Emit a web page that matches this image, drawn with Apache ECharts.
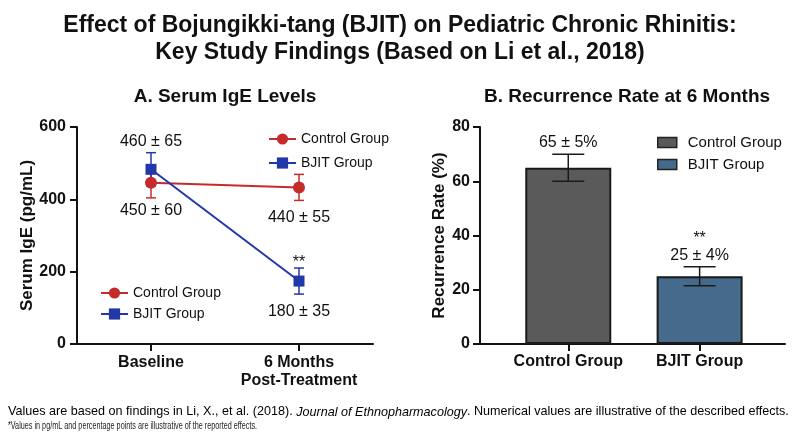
<!DOCTYPE html>
<html>
<head>
<meta charset="utf-8">
<script src="https://cdn.jsdelivr.net/npm/echarts@6/dist/echarts.min.js"></script>
<style>
  html, body { margin: 0; padding: 0; background: #fff; }
  #main { width: 800px; height: 436px; }
</style>
</head>
<body>
<div id="main"></div>
<script>
// panel A: serum IgE (pg/mL), plotted means and error bars
var timepoints = ['Baseline', '6 Months\nPost-Treatment'];
var ctrlIgE = [446, 433];
var ctrlIgEErr = [42, 36];
var bjitIgE = [483, 174];
var bjitIgEErr = [46, 36];
var ctrlIgELabels = ['450 ± 60', '440 ± 55'];
var bjitIgELabels = ['460 ± 65', '180 ± 35'];
var bjitIgESig = ['', '**'];

// panel B: recurrence rate (%)
var groups = ['Control Group', 'BJIT Group'];
var recurrence = [65, 25];
var recurrenceErr = [5, 3.5];
var recurrenceLabels = ['65 ± 5%', '25 ± 4%'];
var recurrenceSig = ['', '**'];

var FONT = '"Liberation Sans", Arial, sans-serif';
var RED = '#c62b2b';
var BLUE = '#2238a8';
var GREY_BAR = '#5a5a5a';
var BLUE_BAR = '#466a8c';

// error bar with caps, plus optional text (significance / value) above the cap
function errorBars(color, capHalf, width, labels, sig, textGap) {
  return function (params, api) {
    var x = api.value(0), y = api.value(1), e = api.value(2);
    var top = api.coord([x, y + e]);
    var bot = api.coord([x, y - e]);
    var st = { stroke: color, lineWidth: width };
    var kids = [
      { type: 'line', shape: { x1: top[0], y1: top[1], x2: bot[0], y2: bot[1] }, style: st },
      { type: 'line', shape: { x1: top[0] - capHalf, y1: top[1], x2: top[0] + capHalf, y2: top[1] }, style: st },
      { type: 'line', shape: { x1: bot[0] - capHalf, y1: bot[1], x2: bot[0] + capHalf, y2: bot[1] }, style: st }
    ];
    var i = params.dataIndex;
    var txt = [];
    if (sig && sig[i]) txt.push(sig[i]);
    if (labels && labels[i]) txt.push(labels[i]);
    if (txt.length) {
      kids.push({
        type: 'text',
        style: {
          text: txt.join('\n'), x: top[0], y: top[1] - textGap,
          align: 'center', verticalAlign: 'bottom',
          font: '16px ' + FONT, fill: '#111', lineHeight: 17
        }
      });
    }
    return { type: 'group', children: kids };
  };
}

function pointLabels(vals, labels, pos, dist) {
  return vals.map(function (v, i) {
    return {
      value: v,
      label: { show: true, formatter: labels[i], position: pos[i], distance: dist[i],
        fontSize: 16, fontFamily: FONT, color: '#111' }
    };
  });
}

var axisTextBold = { fontSize: 16, fontWeight: 'bold', fontFamily: FONT, color: '#111' };
var axisLine = { show: true, onZero: false, lineStyle: { color: '#111', width: 2 } };
var axisTick = { show: true, length: 7, lineStyle: { color: '#111', width: 2 } };

var chart = echarts.init(document.getElementById('main'));
var option = {
  backgroundColor: '#fff',
  animation: false,
  title: {
    text: 'Effect of Bojungikki-tang (BJIT) on Pediatric Chronic Rhinitis:\nKey Study Findings (Based on Li et al., 2018)',
    left: 'center', top: 7,
    textStyle: { fontSize: 23, fontWeight: 'bold', fontFamily: FONT, color: '#111', lineHeight: 27 }
  },
  legend: [
    {
      left: 263, top: 127, orient: 'vertical', itemWidth: 27, itemHeight: 14, itemGap: 10,
      data: ['Control Group', 'BJIT Group'],
      textStyle: { fontSize: 14, fontFamily: FONT, color: '#111' }
    },
    {
      left: 95, top: 281, orient: 'vertical', itemWidth: 27, itemHeight: 14, itemGap: 7,
      data: ['Control Group', 'BJIT Group'],
      textStyle: { fontSize: 14, fontFamily: FONT, color: '#111' }
    },
    {
      left: 652, top: 130, orient: 'vertical', itemWidth: 19, itemHeight: 10, itemGap: 7,
      data: [
        { name: 'Control Group', icon: 'rect', itemStyle: { color: GREY_BAR, borderColor: '#222', borderWidth: 1.5 } },
        { name: 'BJIT Group', icon: 'rect', itemStyle: { color: BLUE_BAR, borderColor: '#222', borderWidth: 1.5 } }
      ],
      textStyle: { fontSize: 15, fontFamily: FONT, color: '#111', padding: [0, 0, 0, 6] }
    }
  ],
  graphic: [
    { type: 'text', x: 225, y: 97, style: { text: 'A. Serum IgE Levels', align: 'center', verticalAlign: 'middle',
      font: 'bold 19px ' + FONT, fill: '#111' } },
    { type: 'text', x: 627, y: 97, style: { text: 'B. Recurrence Rate at 6 Months', align: 'center', verticalAlign: 'middle',
      font: 'bold 19px ' + FONT, fill: '#111' } },
    { type: 'text', x: 8, y: 412, style: {
      text: '{n|Values are based on findings in Li, X., et al. (2018). }{i|Journal of Ethnopharmacology}{n|. Numerical values are illustrative of the described effects.}',
      verticalAlign: 'middle',
      rich: {
        n: { fontSize: 12.6, fontFamily: FONT, color: '#222' },
        i: { fontSize: 12.6, fontFamily: FONT, fontStyle: 'italic', color: '#222' }
      } } },
    { type: 'text', x: 8, y: 426, scaleX: 0.69, style: {
      text: '*Values in pg/mL and percentage points are illustrative of the reported effects.',
      verticalAlign: 'middle',
      font: '10.5px ' + FONT, fill: '#222' } }
  ],
  grid: [
    { left: 77, top: 127, width: 296, height: 217 },
    { left: 480, top: 127, width: 305, height: 217 }
  ],
  xAxis: [
    {
      gridIndex: 0, type: 'category', data: timepoints,
      axisLine: axisLine, axisTick: Object.assign({ alignWithLabel: true }, axisTick),
      axisLabel: Object.assign({ margin: 10, lineHeight: 18, interval: 0 }, axisTextBold),
      splitLine: { show: false }
    },
    {
      gridIndex: 1, type: 'value', min: -0.672, max: 1.65,
      axisLine: axisLine,
      axisTick: Object.assign({ customValues: [0, 1] }, axisTick),
      axisLabel: Object.assign({ margin: 10, customValues: [0, 1],
        formatter: function (v) { return groups[Math.round(v)]; } }, axisTextBold),
      splitLine: { show: false }
    }
  ],
  yAxis: [
    {
      gridIndex: 0, type: 'value', min: 0, max: 600, interval: 200,
      name: 'Serum IgE (pg/mL)', nameLocation: 'middle', nameGap: 41,
      nameTextStyle: { fontSize: 17, fontWeight: 'bold', fontFamily: FONT, color: '#111' },
      axisLine: axisLine, axisTick: axisTick,
      axisLabel: Object.assign({ margin: 11 }, axisTextBold),
      splitLine: { show: false }
    },
    {
      gridIndex: 1, type: 'value', min: 0, max: 80, interval: 20,
      name: 'Recurrence Rate (%)', nameLocation: 'middle', nameGap: 32,
      nameTextStyle: { fontSize: 17, fontWeight: 'bold', fontFamily: FONT, color: '#111' },
      axisLine: axisLine, axisTick: axisTick,
      axisLabel: Object.assign({ margin: 10 }, axisTextBold),
      splitLine: { show: false }
    }
  ],
  series: [
    {
      name: 'Control Group', type: 'line', xAxisIndex: 0, yAxisIndex: 0,
      symbol: 'circle', symbolSize: 12, color: RED,
      lineStyle: { width: 2, color: RED }, z: 3,
      data: pointLabels(ctrlIgE, ctrlIgELabels, ['bottom', 'bottom'], [14, 16])
    },
    {
      name: 'BJIT Group', type: 'line', xAxisIndex: 0, yAxisIndex: 0,
      symbol: 'rect', symbolSize: 11, color: BLUE,
      lineStyle: { width: 2, color: BLUE }, z: 4,
      data: pointLabels(bjitIgE, bjitIgELabels, ['top', 'bottom'], [14, 17])
    },
    {
      name: 'ctrl-err', type: 'custom', xAxisIndex: 0, yAxisIndex: 0, z: 2, silent: true,
      renderItem: errorBars(RED, 5, 1.5),
      data: ctrlIgE.map(function (v, i) { return [i, v, ctrlIgEErr[i]]; })
    },
    {
      name: 'bjit-err', type: 'custom', xAxisIndex: 0, yAxisIndex: 0, z: 2, silent: true,
      renderItem: errorBars(BLUE, 5, 1.5, null, bjitIgESig, -3),
      data: bjitIgE.map(function (v, i) { return [i, v, bjitIgEErr[i]]; })
    },
    {
      name: 'Control Group', type: 'bar', xAxisIndex: 1, yAxisIndex: 1,
      barWidth: 86, barGap: '-100%',
      itemStyle: { color: GREY_BAR, borderColor: '#1a1a1a', borderWidth: 2 },
      data: [[0, recurrence[0]]]
    },
    {
      name: 'BJIT Group', type: 'bar', xAxisIndex: 1, yAxisIndex: 1,
      barWidth: 86, barGap: '-100%',
      itemStyle: { color: BLUE_BAR, borderColor: '#1a1a1a', borderWidth: 2 },
      data: [[1, recurrence[1]]]
    },
    {
      name: 'rate-err', type: 'custom', xAxisIndex: 1, yAxisIndex: 1, z: 5, silent: true,
      renderItem: errorBars('#1a1a1a', 16, 1.5, recurrenceLabels, recurrenceSig, 3),
      data: recurrence.map(function (v, i) { return [i, v, recurrenceErr[i]]; })
    }
  ]
};
chart.setOption(option);
</script>
</body>
</html>
